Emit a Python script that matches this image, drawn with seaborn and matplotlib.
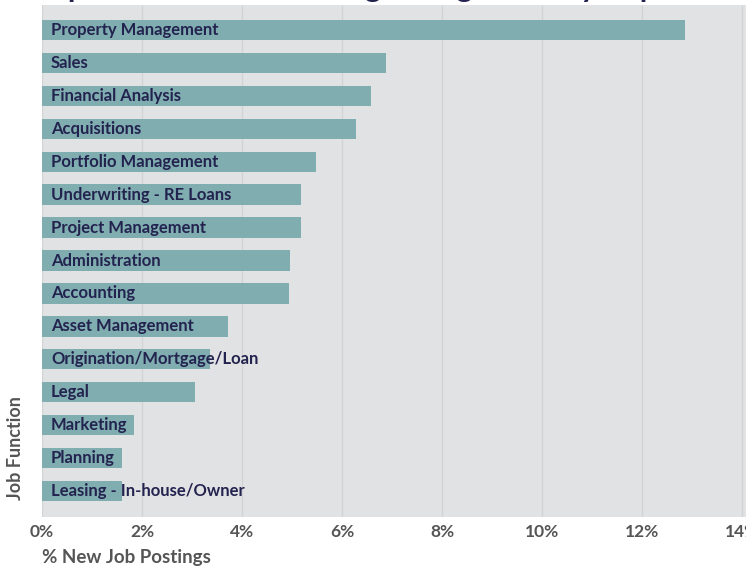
import matplotlib
matplotlib.use("Agg")
import matplotlib.pyplot as plt
import seaborn as sns
import pandas as pd

# Data
functions = ['Property Management', 'Sales', 'Financial Analysis', 'Acquisitions',
             'Portfolio Management', 'Underwriting - RE Loans', 'Project Management',
             'Administration', 'Accounting', 'Asset Management',
             'Origination/Mortgage/Loan', 'Legal', 'Marketing', 'Planning',
             'Leasing - In-house/Owner']
pct_postings = [12.86, 6.88, 6.58, 6.28, 5.48, 5.18, 5.18, 4.96, 4.94,
                3.72, 3.36, 3.06, 1.84, 1.60, 1.60]
x_ticks = [0, 2, 4, 6, 8, 10, 12, 14]

df = pd.DataFrame({'Function': functions, 'Pct': pct_postings})

sns.set_theme(style='white')
plt.rcParams['font.family'] = ['Lato', 'DejaVu Sans']

navy = '#23234f'
bar_col = '#80adb0'
bg = '#e1e2e4'
grey_txt = '#555555'

fig = plt.figure(figsize=(7.46, 5.69), dpi=100)
ax = fig.add_axes([42 / 746, 1 - 517 / 569, 704 / 746, 512 / 569])
ax.set_facecolor(bg)

sns.barplot(data=df, x='Pct', y='Function', orient='h', color=bar_col,
            saturation=1, width=0.62, linewidth=0, ax=ax, zorder=2)

for i, name in enumerate(functions):
    ax.text(0.18, i, name, va='center', ha='left', color=navy,
            fontsize=12, fontweight='bold', zorder=3)

ax.set_xlim(0, 14.08)
ax.set_ylim(14.79, -0.76)
ax.set_xticks(x_ticks)
ax.set_xticklabels([f'{t}%' for t in x_ticks])
ax.set_yticks([])
ax.grid(axis='x', color='#d2d3d5', linewidth=1, zorder=0)
ax.set_axisbelow(True)
for s in ax.spines.values():
    s.set_visible(False)
ax.tick_params(axis='x', length=0, pad=5, labelsize=12.5, labelcolor=grey_txt)
for lab in ax.get_xticklabels():
    lab.set_fontweight('bold')

ax.set_xlabel('')
ax.set_ylabel('')
fig.text(42 / 746, 1 - 558 / 569, '% New Job Postings', ha='left', va='center',
         fontsize=13.5, fontweight='bold', color=grey_txt)
fig.text(16 / 746, 1 - 500 / 569, 'Job Function', ha='center', va='bottom',
         rotation=90, fontsize=13, fontweight='bold', color=grey_txt)

# title sits above the visible area, only its descenders show
fig.text(0.49, 1 + 3 / 569, 'Top Job Functions among Hiring Firms by Top 20',
         ha='center', va='baseline', fontsize=22, fontweight='bold', color=navy)

fig.savefig('out.png', dpi=100, facecolor='white')
